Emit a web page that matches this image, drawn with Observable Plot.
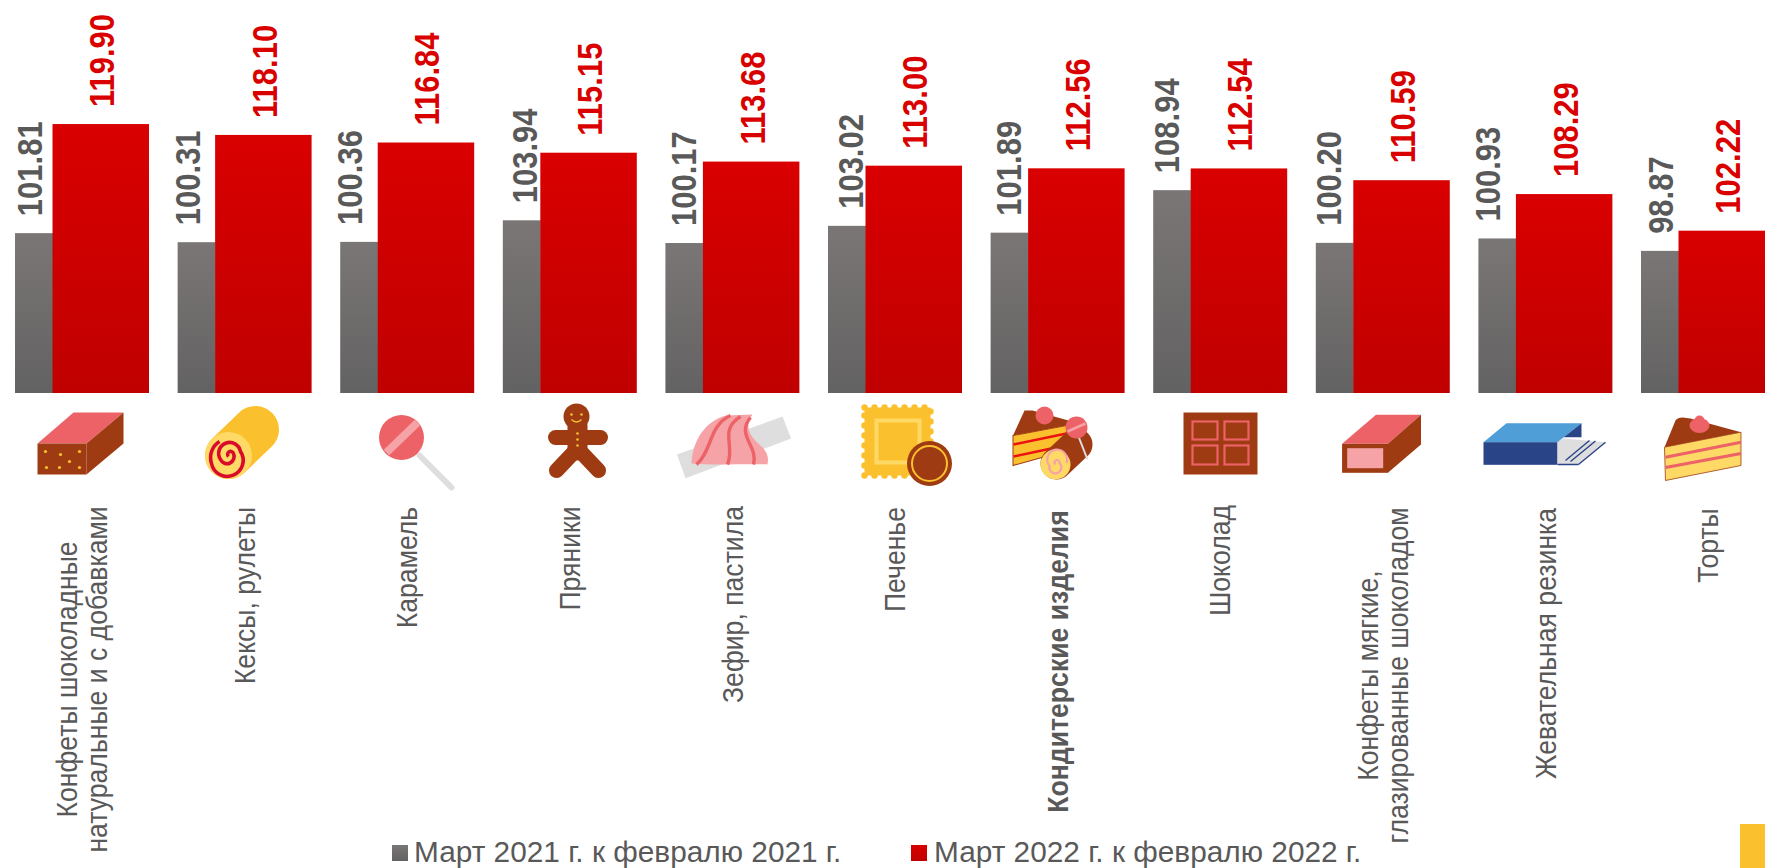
<!DOCTYPE html>
<html lang="ru"><head><meta charset="utf-8">
<script src="https://cdn.jsdelivr.net/npm/d3@7"></script>
<script src="https://cdn.jsdelivr.net/npm/@observablehq/plot@0.6"></script>
<style>
html,body{margin:0;padding:0;background:#fff;overflow:hidden}
#wrap{position:relative;width:1765px;height:868px;overflow:hidden;font-family:"Liberation Sans",Arial,sans-serif}
#wrap svg{display:block;position:absolute;left:0;top:0}
.lg{position:absolute;top:836px;height:32px;line-height:32px;font-size:29.8px;color:#595959;white-space:nowrap}
.sw{position:absolute;top:845px;width:16px;height:16px}
#corner{position:absolute;left:1740px;top:824px;width:25px;height:44px;background:#fbc02d}
</style></head><body>
<div id="wrap">
<div id="chart"></div>
<div class="sw" style="left:392px;background:linear-gradient(#7a7675,#636262)"></div><div class="lg" style="left:414px">Март 2021 г. к февралю 2021 г.</div>
<div class="sw" style="left:911px;background:linear-gradient(#d90000,#c00000)"></div><div class="lg" style="left:934px">Март 2022 г. к февралю 2022 г.</div>
<div id="corner"></div>
</div>
<script>
const categories = [
 "Конфеты шоколадные\nнатуральные и с добавками","Кексы, рулеты","Карамель","Пряники","Зефир, пастила","Печенье",
 "Кондитерские изделия","Шоколад","Конфеты мягкие,\nглазированные шоколадом","Жевательная резинка","Торты"];
const march2021 = [101.81,100.31,100.36,103.94,100.17,103.02,101.89,108.94,100.20,100.93,98.87];
const march2022 = [119.90,118.10,116.84,115.15,113.68,113.00,112.56,112.54,110.59,108.29,102.22];
// layout: centre (px from the top) of each rotated category label
const labelCentre = [679,595,567,558,604,559,661,560,675,643,545];
// layout: horizontal offset of each grey value label from its category centre
const greyLabelOffset = [-52,-56,-57,-44,-48,-44,-48,-53,-53,-57,-47];

const rows21 = categories.map((c,i)=>({c,v:march2021[i]}));
const rows22 = categories.map((c,i)=>({c,v:march2022[i]}));

const BR="#9e3b13",PK="#ec6266",LP="#f5a3a7",YE="#fbc02d",LY="#ffd966",GR="#dedede";
const icons = [
`<polygon points="37,443 73,412 123,412 86,443" fill="${PK}"/><rect x="37" y="443" width="49" height="31" fill="${BR}"/><polygon points="86,443 123,412 123,443 86,474" fill="${BR}"/><g fill="${YE}"><circle cx="45" cy="451" r="1.6"/><circle cx="60" cy="454" r="1.6"/><circle cx="79" cy="451" r="1.6"/><circle cx="69" cy="461" r="1.6"/><circle cx="46" cy="467" r="1.6"/><circle cx="59" cy="467" r="1.6"/><circle cx="79" cy="467" r="1.6"/></g>`,
`<line x1="228" y1="455" x2="255" y2="429" stroke="${YE}" stroke-width="47" stroke-linecap="round"/><circle cx="228" cy="455" r="23.5" fill="${LY}"/><path d="M228,456 a3,3 0 1 1 5,-3 a7,7 0 1 1 -13,6 a11,11 0 1 1 20,-8 a16,16 0 1 1 -29,12 a19,19 0 0 1 8,-22" fill="none" stroke="#d90b2a" stroke-width="3.6"/>`,
`<line x1="419" y1="455" x2="451" y2="487" stroke="${GR}" stroke-width="6" stroke-linecap="round"/><circle cx="401" cy="437" r="22.5" fill="${PK}"/><line x1="386" y1="452" x2="417" y2="422" stroke="${LP}" stroke-width="8"/>`,
`<g stroke="${BR}" stroke-linecap="round" fill="none"><line x1="555" y1="437" x2="600" y2="437" stroke-width="15"/><line x1="577" y1="425" x2="577" y2="450" stroke-width="20"/><line x1="575" y1="450" x2="556" y2="470" stroke-width="15"/><line x1="579" y1="450" x2="598" y2="470" stroke-width="15"/></g><circle cx="576" cy="416" r="13" fill="${BR}"/><g fill="${YE}"><circle cx="571" cy="414" r="1.3"/><circle cx="581" cy="414" r="1.3"/><circle cx="577" cy="433" r="1.3"/><circle cx="577" cy="439" r="1.3"/><circle cx="577" cy="445" r="1.3"/></g><path d="M571,419 q5,5 10,0" stroke="${YE}" stroke-width="1.3" fill="none"/>`,
`<polygon points="676.5,454 782,416 790.6,438 685,477.7" fill="${GR}"/><path d="M691,463 C692,440 705,420 726,415 L752,414 C744,425 748,435 760,445 C768,452 768,458 767,464 C745,463 715,465 691,463Z" fill="${LP}"/><g fill="none" stroke="${PK}" stroke-width="3.4"><path d="M696,464 C712,450 708,425 730,415"/><path d="M727,464 C735,445 718,430 740,416"/><path d="M753,464 C758,445 735,435 750,417"/></g>`,
`<rect x="864" y="407" width="66" height="68" fill="${YE}"/><rect x="864" y="407" width="66" height="68" fill="none" stroke="${YE}" stroke-width="6.5" stroke-dasharray="0 10" stroke-linecap="round"/><rect x="876" y="420" width="43" height="42" fill="none" stroke="${LY}" stroke-width="4"/><circle cx="929" cy="463" r="22.5" fill="${BR}"/><circle cx="929" cy="463" r="17.5" fill="none" stroke="${YE}" stroke-width="2"/>`,
`<path d="M1024,410 L1032,410 L1068,420 L1066,425 L1012.5,435Z" fill="${BR}"/><polygon points="1012.5,435 1066,425 1066,450 1012.5,465" fill="${YE}" stroke="${BR}" stroke-width="1"/><g stroke="#ee1111" stroke-width="2.5"><line x1="1013" y1="444" x2="1066" y2="433"/><line x1="1013" y1="456" x2="1060" y2="446"/></g><line x1="1056" y1="463" x2="1076" y2="444" stroke="${BR}" stroke-width="32" stroke-linecap="round"/><line x1="1078" y1="436" x2="1087" y2="459" stroke="${GR}" stroke-width="2"/><circle cx="1044" cy="415" r="9" fill="${PK}"/><circle cx="1076" cy="427" r="11" fill="${PK}"/><line x1="1067" y1="431" x2="1085" y2="423" stroke="${LP}" stroke-width="2.5"/><circle cx="1055" cy="464" r="15" fill="${LY}"/><path d="M1055,464 a2.5,2.5 0 1 1 4,-1.5 a6,6 0 1 1 -10,3 a10,10 0 1 1 17,-3" fill="none" stroke="${LP}" stroke-width="2.2"/>`,
`<rect x="1183" y="412" width="74" height="62" fill="${BR}"/><g fill="none" stroke="${PK}" stroke-width="2.2"><rect x="1192" y="421" width="25" height="18"/><rect x="1224" y="421" width="24" height="18"/><rect x="1192" y="445" width="25" height="19"/><rect x="1224" y="445" width="24" height="19"/></g>`,
`<polygon points="1341.6,443.3 1375.5,414.3 1420.5,414.3 1387.4,443.3" fill="${PK}"/><rect x="1341.6" y="443.3" width="46" height="29" fill="${BR}"/><polygon points="1387.4,443.3 1420.5,414.3 1420.5,444 1387.4,472.3" fill="${BR}"/><rect x="1346.7" y="447.7" width="36" height="20" fill="${LP}"/>`,
`<polygon points="1557,441 1563,438 1605,441.7 1578,464 1557,464" fill="${GR}"/><g stroke="#2a4488" stroke-width="1.4" fill="none"><line x1="1589" y1="440" x2="1565" y2="460"/><line x1="1595" y1="440.5" x2="1570" y2="461"/><line x1="1605" y1="441.7" x2="1578" y2="464"/><line x1="1557" y1="464" x2="1578" y2="464"/></g><polygon points="1483,441.7 1506,422.7 1581,422.7 1556.8,441.7" fill="#4f9ed8"/><rect x="1483" y="441.7" width="73.8" height="22.6" fill="#2a4488"/><polygon points="1556.8,441.7 1581,422.7 1581,436.7 1563,436.7" fill="#2a4488"/>`,
`<path d="M1664,446.7 L1675,420 Q1677,417 1682,417 L1690,418 L1740.5,431.7Z" fill="${BR}"/><polygon points="1664,446.7 1740.5,431.7 1740.5,465 1665,480" fill="${LY}" stroke="${BR}" stroke-width="0.8"/><g stroke="${PK}" stroke-width="3"><line x1="1665" y1="456.7" x2="1740.5" y2="441.7"/><line x1="1665" y1="467" x2="1740.5" y2="453"/></g><ellipse cx="1699" cy="425" rx="10" ry="7.5" fill="${PK}"/><circle cx="1699" cy="420" r="5" fill="${PK}"/>`
];
const iconSrc = categories.map((c,i)=>{
  const x0 = 82 + 162.6*i - 70;
  const s = `<svg xmlns="http://www.w3.org/2000/svg" viewBox="${x0} 400 140 95" width="140" height="95">${icons[i]}</svg>`;
  return "data:image/svg+xml," + encodeURIComponent(s);
});

const defs = () => {
  const svg = d3.create("svg:defs");
  [["g21","#7a7675","#636262"],["g22","#d90000","#c00000"]].forEach(([id,a,b])=>{
    const g = svg.append("linearGradient").attr("id",id).attr("x1",0).attr("x2",0).attr("y1",0).attr("y2",1);
    g.append("stop").attr("offset",0).attr("stop-color",a);
    g.append("stop").attr("offset",1).attr("stop-color",b);
  });
  return svg.node();
};

const labelFont = {fontFamily:"Liberation Sans, Arial, sans-serif"};
const valueStyle = {y:"v",text:d=>d.v.toFixed(2),rotate:-90,textAnchor:"start",dy:-17.5,lineAnchor:"middle",fontWeight:"bold",fontSize:31,...labelFont};
const chart = Plot.plot({
  width:1765, height:868, margin:0,
  style:{background:"transparent", overflow:"hidden"},
  x:{type:"band", domain:categories, range:[-13.6,1803.6], padding:0.176, round:false, axis:null},
  y:{domain:[75.3,75.3+393/6.03], range:[393,0], axis:null},
  marks:[
    defs,
    Plot.barY(rows21,{x:"c",y1:75.3,y2:"v",fill:"url(#g21)",insetRight:96}),
    Plot.barY(rows22,{x:"c",y1:75.3,y2:"v",fill:"url(#g22)",insetLeft:37.5}),
    ...rows21.map((r,i)=>Plot.text([r],{x:"c",dx:greyLabelOffset[i],fill:"#595959",className:"stretch-val",...valueStyle})),
    Plot.text(rows22,{x:"c",dx:20.5,fill:"#d90000",className:"stretch-val",...valueStyle}),
    Plot.image(categories,{x:d=>d,frameAnchor:"top",dy:447.5,width:140,height:95,src:d=>iconSrc[categories.indexOf(d)]}),
    ...categories.map((c,i)=>Plot.text([c],{x:d=>d,frameAnchor:"top",dy:labelCentre[i],text:d=>d,rotate:-90,textAnchor:"middle",lineAnchor:"middle",fontSize:26.6,lineHeight:1.05,fill:"#595959",fontWeight:c==="Кондитерские изделия"?"bold":"normal",className:"stretch-cat",...labelFont}))
  ]
});
// the reference's rotated text is slightly stretched across its reading direction
const stretch = (sel,k)=>d3.select(chart).selectAll(sel).attr("transform",function(){return (this.getAttribute("transform")||"")+` scale(1,${k})`});
stretch(".stretch-val text",1.12);
stretch(".stretch-cat text",1.08);
document.getElementById("chart").append(chart);
</script>
</body></html>
